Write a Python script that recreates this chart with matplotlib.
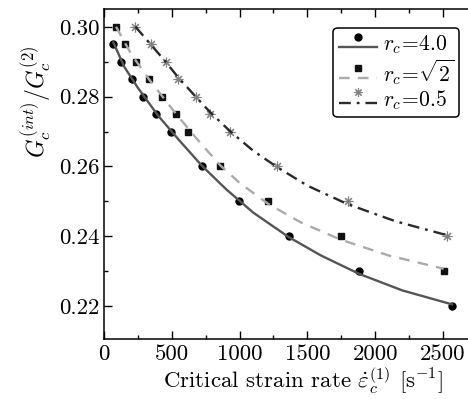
import matplotlib
matplotlib.use("Agg")
import matplotlib.pyplot as plt
from matplotlib.ticker import MultipleLocator, FormatStrFormatter
from matplotlib.legend_handler import HandlerLine2DCompound
from matplotlib.lines import Line2D

plt.rcParams["font.family"] = "cmr10"
plt.rcParams["mathtext.fontset"] = "cm"
plt.rcParams["axes.unicode_minus"] = False

# ── Data ──────────────────────────────────────────────────────────────────────
# markers
x_r4 = [69, 126, 207, 286, 385, 496, 722, 994, 1361, 1884, 2567]
y_r4 = [0.2952, 0.290, 0.285, 0.280, 0.275, 0.270, 0.260, 0.250, 0.240, 0.230, 0.220]
x_rs2 = [89, 158, 234, 335, 429, 528, 621, 858, 1210, 1748, 2505]
y_rs2 = [0.300, 0.295, 0.290, 0.285, 0.280, 0.275, 0.270, 0.260, 0.250, 0.240, 0.230]
x_r05 = [232, 343, 454, 547, 676, 784, 932, 1277, 1797, 2530]
y_r05 = [0.300, 0.295, 0.290, 0.285, 0.280, 0.275, 0.270, 0.260, 0.250, 0.240]

# fitted curves
cx_r4 = [69, 150, 250, 400, 550, 722, 900, 1100, 1361, 1600, 1884, 2200, 2567]
cy_r4 = [0.2955, 0.2885, 0.2825, 0.2745, 0.2677, 0.2602, 0.2535, 0.2468, 0.2398,
         0.2345, 0.2292, 0.2245, 0.2205]
cx_rs2 = [89, 200, 335, 528, 700, 858, 1000, 1210, 1450, 1748, 2100, 2505]
cy_rs2 = [0.300, 0.2922, 0.2848, 0.2752, 0.2672, 0.2603, 0.2553, 0.2493, 0.2440,
          0.2390, 0.2345, 0.2307]
cx_r05 = [232, 343, 454, 547, 676, 784, 932, 1100, 1277, 1500, 1797, 2150, 2530]
cy_r05 = [0.300, 0.295, 0.290, 0.2855, 0.2800, 0.2755, 0.2700, 0.2645, 0.2598,
          0.2545, 0.2492, 0.2443, 0.2403]

labels = [r"$r_c\!=\!4.0$", r"$r_c\!=\!\sqrt{2}$", r"$r_c\!=\!0.5$"]

# ── Figure ────────────────────────────────────────────────────────────────────
fig = plt.figure(figsize=(4.68, 3.99), dpi=100)
# right spine sits just outside the picture, as in the cropped original
ax = fig.add_axes([104 / 468, 1 - 339.3 / 399, 376 / 468, 330 / 399])

star = (8, 2, 0)
ax.plot(x_r4, y_r4, "o", ms=5, color="black", zorder=2)
ax.plot(x_rs2, y_rs2, "s", ms=4.5, color="#111111", zorder=2)
ax.plot(x_r05, y_r05, marker=star, ls="none", ms=7, mew=0.8, color="#808080", zorder=2)

ax.plot(cx_r4, cy_r4, "-", lw=1.7, color="#555555", zorder=3)
ax.plot(cx_rs2, cy_rs2, "--", lw=1.7, color="#aaaaaa", dashes=(4.5, 3.5), zorder=3)
ax.plot(cx_r05, cy_r05, "-.", lw=1.7, color="#2a2a2a", dashes=(5, 2.5, 1.2, 2.5), zorder=3)

ax.set_xlim(0, 2773)
ax.set_ylim(0.2105, 0.305)
ax.xaxis.set_major_locator(MultipleLocator(500))
ax.xaxis.set_minor_locator(MultipleLocator(250))
ax.yaxis.set_major_locator(MultipleLocator(0.02))
ax.yaxis.set_minor_locator(MultipleLocator(0.01))
ax.yaxis.set_major_formatter(FormatStrFormatter("%.2f"))
ax.tick_params(which="both", direction="in", top=True, right=True, labelsize=16.5, width=1)
ax.tick_params(which="major", length=5.5)
ax.tick_params(which="minor", length=3)
for s in ax.spines.values():
    s.set_linewidth(1.1)

ax.set_xlabel(r"Critical strain rate $\dot{\varepsilon}_c^{(1)}$ [s$^{-1}$]", fontsize=16.5)
ax.xaxis.set_label_coords(0.53, -0.08)
ax.set_ylabel(r"$G_c^{(int)}/G_c^{(2)}$", fontsize=17)
ax.yaxis.set_label_coords(-0.135, 0.72)

# legend handles: line with the marker raised above it
class RaisedMarker(HandlerLine2DCompound):
    def create_artists(self, legend, orig_handle, xdescent, ydescent, width, height, fontsize, trans):
        arts = super().create_artists(legend, orig_handle, xdescent, ydescent, width, height, fontsize, trans)
        line, mark = arts
        line.set_ydata([y - 0.3 * height for y in line.get_ydata()])
        mark.set_ydata([y + 0.4 * height for y in mark.get_ydata()])
        return arts

h = [Line2D([], [], ls="-", lw=1.7, color="#555555", marker="o", ms=5, mfc="black", mec="black"),
     Line2D([], [], ls="--", lw=1.7, color="#aaaaaa", dashes=(4.5, 3.5), marker="s", ms=4.5, mfc="#111111", mec="#111111"),
     Line2D([], [], ls="-.", lw=1.7, color="#2a2a2a", dashes=(5, 2.5, 1.2, 2.5), marker=star, ms=6, mew=0.8, mfc="#808080", mec="#808080")]
leg = ax.legend(h, labels, loc="upper right", bbox_to_anchor=((459.3 - 104) / 376, 1 - 18.4 / 330),
                fontsize=15.5, numpoints=1, handlelength=1.8, handletextpad=0.25, labelspacing=0.05,
                borderpad=0.25, borderaxespad=0, fancybox=True, frameon=True,
                handler_map={Line2D: RaisedMarker()})
leg.get_frame().set_edgecolor("black")
leg.get_frame().set_linewidth(1.1)
leg.get_frame().set_alpha(1)

fig.savefig("out.png", dpi=100)
